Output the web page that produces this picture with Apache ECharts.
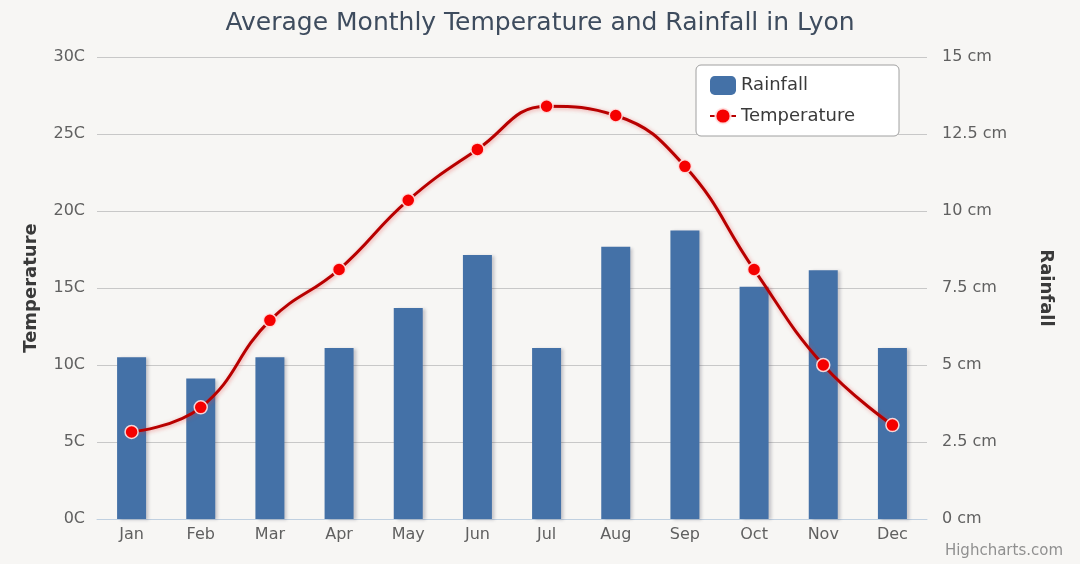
<!DOCTYPE html>
<html>
<head>
<meta charset="utf-8">
<title>Average Monthly Temperature and Rainfall in Lyon</title>
<script src="https://cdn.jsdelivr.net/npm/echarts@6/dist/echarts.min.js"></script>
<style>
  html, body { margin: 0; padding: 0; background: #f7f6f4; }
  #chart { width: 1080px; height: 564px; }
</style>
</head>
<body>
<div id="chart"></div>
<script>
  /* Lyon climate: monthly rainfall bars + temperature spline on twin axes. */
  const months = ["Jan", "Feb", "Mar", "Apr", "May", "Jun", "Jul", "Aug", "Sep", "Oct", "Nov", "Dec"];
  const rainfallCm = [5.25, 4.56, 5.25, 5.55, 6.85, 8.57, 5.55, 8.84, 9.37, 7.54, 8.08, 5.55];
  const temperatureC = [5.65, 7.25, 12.9, 16.2, 20.7, 24.0, 26.8, 26.2, 22.9, 16.2, 10.0, 6.1];
  const tempTicks = { min: 0, max: 30, interval: 5 };
  const rainTicks = { min: 0, max: 15, interval: 2.5 };

  const FONT = "'DejaVu Sans', Verdana, sans-serif";
  const LABEL = { color: "#606060", fontFamily: FONT, fontSize: 16 };
  const AXIS_NAME = { color: "#3a3a3a", fontFamily: FONT, fontSize: 18, fontWeight: "bold" };

  const chart = echarts.init(document.getElementById("chart"), null, { renderer: "canvas" });

  chart.setOption({
    backgroundColor: "#f7f6f4",
    animation: false,
    title: [
      { text: "Average Monthly Temperature and Rainfall in Lyon", left: "center", top: 6,
        textStyle: { color: "#3e4c5e", fontFamily: FONT, fontSize: 25, fontWeight: "normal" } },
      { text: "Highcharts.com", right: 12, bottom: 0,
        textStyle: { color: "#909090", fontFamily: FONT, fontSize: 15, fontWeight: "normal" } },
    ],
    grid: { left: 97, right: 153, top: 57, bottom: 45 },
    legend: {
      orient: "vertical", left: 696, top: 65,
      backgroundColor: "#ffffff", borderColor: "#a0a0a0", borderWidth: 1, borderRadius: 5,
      padding: [11, 44, 11, 13], itemGap: 12, itemWidth: 26, itemHeight: 19,
      textStyle: { color: "#3a3a3a", fontFamily: FONT, fontSize: 18 },
      data: [{ name: "Rainfall", icon: "roundRect" }, { name: "Temperature" }],
    },
    xAxis: {
      type: "category", data: months,
      axisLine: { lineStyle: { color: "#c0d0e0", width: 1 } },
      axisTick: { length: 5, lineStyle: { color: "#c0d0e0" } },
      axisLabel: { ...LABEL, margin: 8 },
    },
    yAxis: [
      { type: "value", ...tempTicks, position: "left",
        name: "Temperature", nameLocation: "middle", nameGap: 57, nameTextStyle: AXIS_NAME,
        axisLine: { show: false }, axisTick: { show: false },
        axisLabel: { ...LABEL, margin: 12, formatter: "{value}C" },
        splitLine: { lineStyle: { color: "#c8c8c8", width: 1 } } },
      { type: "value", ...rainTicks, position: "right",
        name: "Rainfall", nameLocation: "middle", nameGap: 110, nameRotate: -90, nameTextStyle: AXIS_NAME,
        axisLine: { show: false }, axisTick: { show: false },
        axisLabel: { ...LABEL, margin: 15, formatter: "{value} cm" },
        splitLine: { show: false } },
    ],
    series: [
      {
        name: "Rainfall", type: "bar", yAxisIndex: 1, barWidth: 29,
        data: rainfallCm,
        itemStyle: { color: "#4471a7", shadowColor: "rgba(60,60,80,0.25)", shadowBlur: 3, shadowOffsetX: 3, shadowOffsetY: 1 },
      },
      {
        name: "Temperature", type: "line", yAxisIndex: 0, smooth: 0.45,
        data: temperatureC,
        symbol: "circle", symbolSize: 13,
        lineStyle: { color: "#b80000", width: 3, shadowColor: "rgba(230,60,60,0.45)", shadowBlur: 4, shadowOffsetX: 1, shadowOffsetY: 1 },
        itemStyle: { color: "#f50000", borderColor: "rgba(255,230,230,0.9)", borderWidth: 1.5 },
        z: 5,
      },
    ],
  });
</script>
</body>
</html>
